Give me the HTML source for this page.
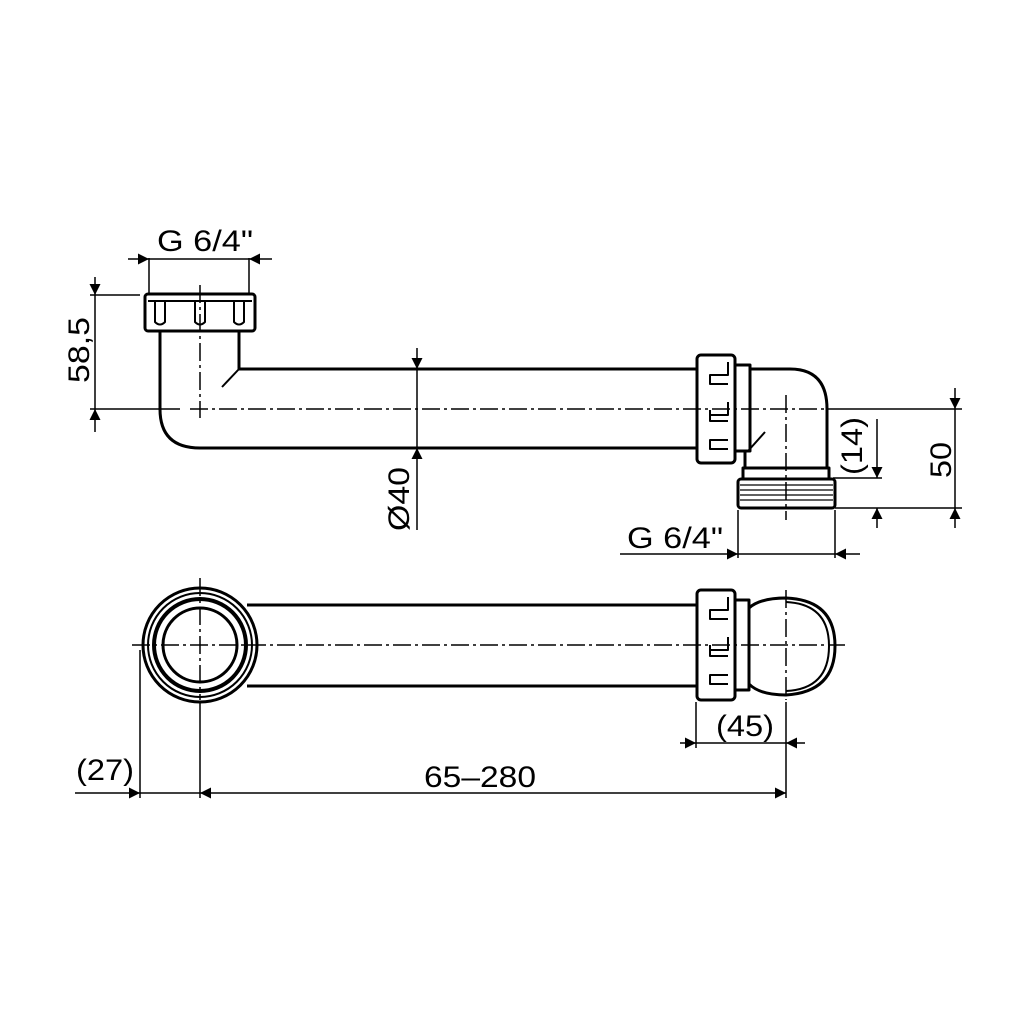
<!DOCTYPE html>
<html><head><meta charset="utf-8"><style>html,body{margin:0;padding:0;background:#fff}svg{display:block}</style></head>
<body>
<svg width="1024" height="1024" viewBox="0 0 1024 1024" xmlns="http://www.w3.org/2000/svg">
<defs>
<marker id="a" viewBox="0 0 10 10" refX="10" refY="5" markerWidth="18" markerHeight="11" markerUnits="userSpaceOnUse" orient="auto"><path d="M0,0 L10,5 L0,10 z" fill="#000"/></marker>
</defs>
<g fill="none" stroke="#000" stroke-width="3" stroke-linejoin="round">
<rect x="145" y="294" width="110" height="37" rx="3"/>
<line x1="148" y1="301" x2="252" y2="301" stroke-width="2"/>
<path d="M155,301 V322 Q160,327 165,322 V301 M195,301 V322 Q200,327 205,322 V301 M234,301 V322 Q239,327 244,322 V301" stroke-width="2"/>
<path d="M160,331 V409 Q160,448 200,448 H698"/>
<path d="M239,331 V369 H698"/>
<line x1="239" y1="369" x2="222" y2="387" stroke-width="2"/>
<rect x="697" y="355" width="38" height="108" rx="4"/>
<path d="M735,365 H750 V451 H735" />
<path d="M728,362 V375 H710 V384 H728 M728,402 V415 H710 M728,421 H710 V410 M728,440 H710 V449 H728" stroke-width="2"/>
<path d="M750,369 H790 Q827,369 827,409 V468"/>
<path d="M745,451 V468"/>
<line x1="748" y1="451" x2="765" y2="432" stroke-width="2"/>
<rect x="743" y="468" width="86" height="11"/>
<rect x="738" y="479" width="97" height="29" rx="3"/>
<path d="M740,485 H833 M740,490 H833 M740,495 H833 M740,500 H833" stroke-width="1.3"/>
<circle cx="200" cy="645" r="57"/>
<circle cx="200" cy="645" r="52" stroke-width="2"/>
<circle cx="200" cy="645" r="46" stroke-width="4"/>
<circle cx="200" cy="645" r="37"/>
<line x1="247" y1="605" x2="697" y2="605"/>
<line x1="247" y1="686" x2="697" y2="686"/>
<rect x="697" y="590" width="38" height="110" rx="4"/>
<path d="M735,600 H749 V690 H735"/>
<path d="M728,597 V610 H710 V619 H728 M728,637 V650 H710 M728,656 H710 V645 M728,675 H710 V684 H728" stroke-width="2"/>
<path d="M749,608 Q760,598 786,598 Q835,600 835,646 Q835,692 786,695 Q760,695 749,684"/>
<path d="M786,602 Q829,604 829,646 Q829,689 786,691" stroke-width="2"/>
</g>
<g stroke="#000" stroke-width="1.5" stroke-dasharray="18,4,3,4" fill="none">
<line x1="200" y1="285" x2="200" y2="418"/>
<line x1="190" y1="409" x2="830" y2="409"/>
<line x1="786" y1="395" x2="786" y2="520"/>
<line x1="132" y1="645" x2="845" y2="645"/>
<line x1="200" y1="578" x2="200" y2="700"/>
<line x1="786" y1="590" x2="786" y2="700"/>
</g>
<g stroke="#000" stroke-width="1.5" fill="none">
<line x1="149" y1="258" x2="149" y2="294"/><line x1="249" y1="258" x2="249" y2="294"/>
<line x1="128" y1="259" x2="149" y2="259" marker-end="url(#a)"/><line x1="149" y1="259" x2="249" y2="259"/><line x1="272" y1="259" x2="249" y2="259" marker-end="url(#a)"/>
<line x1="90" y1="295" x2="140" y2="295"/><line x1="90" y1="409" x2="180" y2="409"/>
<line x1="95" y1="277" x2="95" y2="295" marker-end="url(#a)"/><line x1="95" y1="295" x2="95" y2="409"/><line x1="95" y1="432" x2="95" y2="409" marker-end="url(#a)"/>
<line x1="417" y1="348" x2="417" y2="369" marker-end="url(#a)"/><line x1="417" y1="369" x2="417" y2="448"/><line x1="417" y1="530" x2="417" y2="448" marker-end="url(#a)"/>
<line x1="830" y1="409" x2="962" y2="409"/>
<line x1="955" y1="388" x2="955" y2="409" marker-end="url(#a)"/><line x1="955" y1="409" x2="955" y2="508"/><line x1="955" y1="528" x2="955" y2="508" marker-end="url(#a)"/>
<line x1="835" y1="508" x2="962" y2="508"/><line x1="833" y1="478" x2="882" y2="478"/>
<line x1="877" y1="419" x2="877" y2="478" marker-end="url(#a)"/><line x1="877" y1="528" x2="877" y2="508" marker-end="url(#a)"/>
<line x1="738" y1="510" x2="738" y2="558"/><line x1="835" y1="510" x2="835" y2="558"/>
<line x1="620" y1="554" x2="738" y2="554" marker-end="url(#a)"/><line x1="738" y1="554" x2="835" y2="554"/><line x1="860" y1="554" x2="835" y2="554" marker-end="url(#a)"/>
<line x1="696" y1="702" x2="696" y2="748"/><line x1="786" y1="702" x2="786" y2="798"/>
<line x1="680" y1="743" x2="696" y2="743" marker-end="url(#a)"/><line x1="696" y1="743" x2="786" y2="743"/><line x1="805" y1="743" x2="786" y2="743" marker-end="url(#a)"/>
<line x1="140" y1="650" x2="140" y2="798"/><line x1="200" y1="702" x2="200" y2="798"/>
<line x1="75" y1="793" x2="140" y2="793" marker-end="url(#a)"/><line x1="140" y1="793" x2="200" y2="793"/>
<line x1="230" y1="793" x2="200" y2="793" marker-end="url(#a)"/><line x1="230" y1="793" x2="786" y2="793" marker-end="url(#a)"/>
</g>
<g font-family="Liberation Sans, sans-serif" font-size="30" fill="#000">
<text x="157" y="251" textLength="96" lengthAdjust="spacingAndGlyphs">G 6/4"</text>
<text x="627" y="548" textLength="96" lengthAdjust="spacingAndGlyphs">G 6/4"</text>
<text transform="translate(89,383) rotate(-90)" textLength="66" lengthAdjust="spacingAndGlyphs">58,5</text>
<text transform="translate(409,531) rotate(-90)" textLength="64" lengthAdjust="spacingAndGlyphs">Ø40</text>
<text transform="translate(862,475) rotate(-90)" textLength="58" lengthAdjust="spacingAndGlyphs">(14)</text>
<text transform="translate(951,478) rotate(-90)" textLength="36" lengthAdjust="spacingAndGlyphs">50</text>
<text x="716" y="736" textLength="58" lengthAdjust="spacingAndGlyphs">(45)</text>
<text x="76" y="780" textLength="58" lengthAdjust="spacingAndGlyphs">(27)</text>
<text x="424" y="787" textLength="112" lengthAdjust="spacingAndGlyphs">65–280</text>
</g>
</svg>
</body></html>
